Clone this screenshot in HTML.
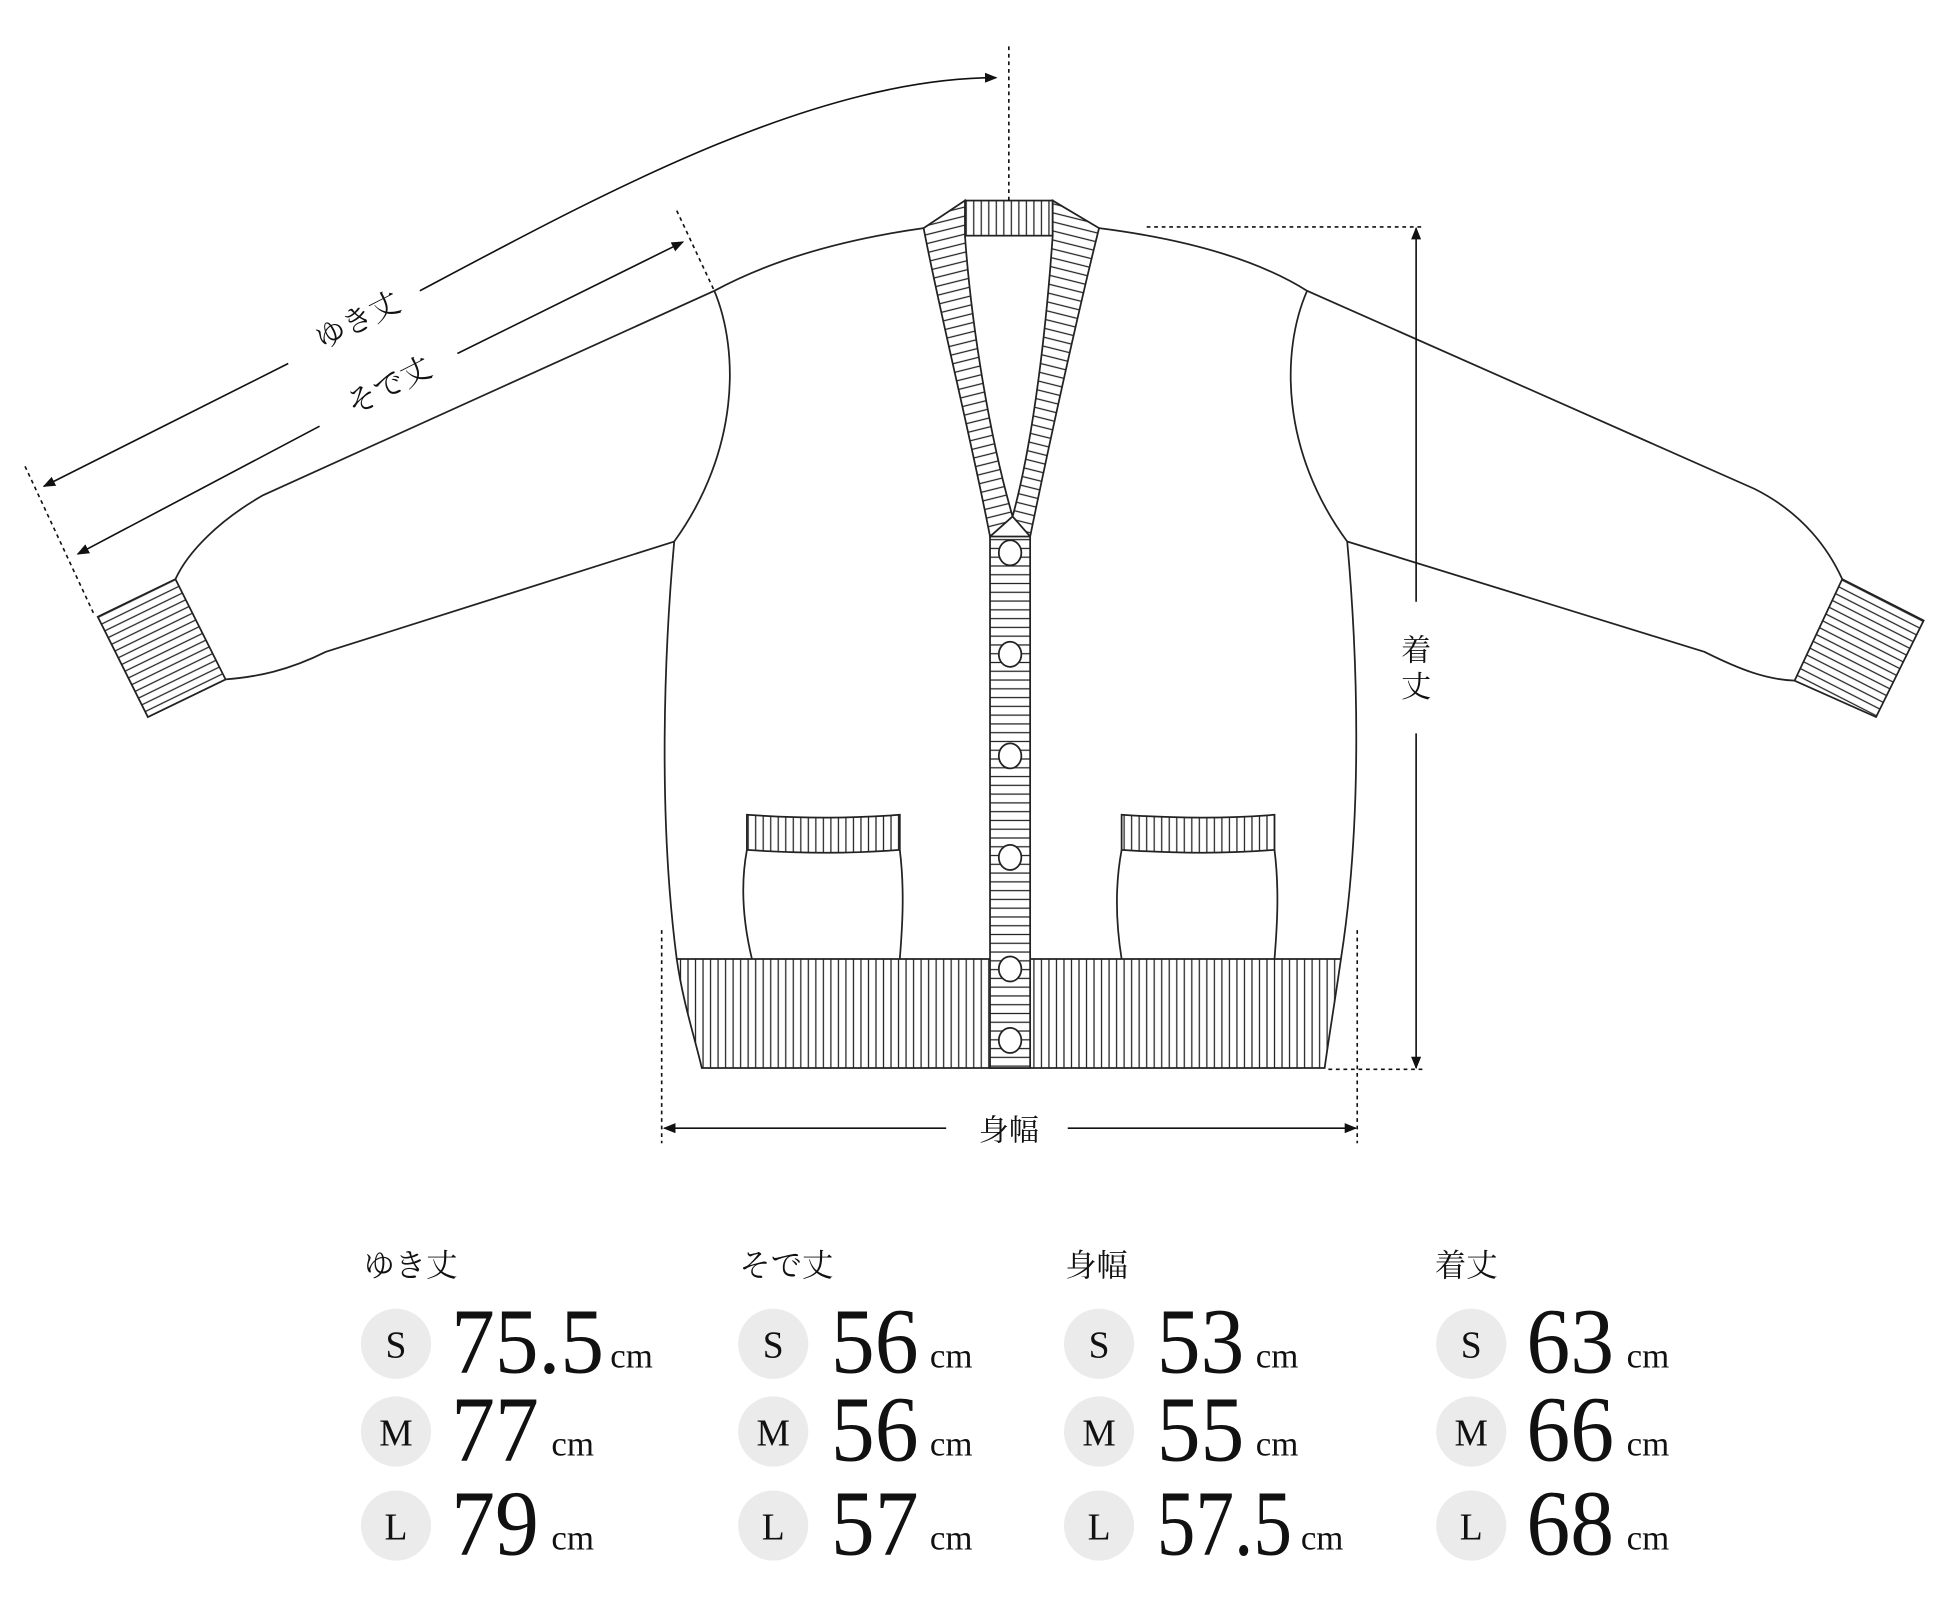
<!DOCTYPE html>
<html><head><meta charset="utf-8"><style>html,body{margin:0;padding:0;background:#fff}svg{display:block}</style></head>
<body>
<svg width="1955" height="1597" viewBox="0 0 1560 1274" preserveAspectRatio="none" xmlns="http://www.w3.org/2000/svg">
<defs>
<pattern id="pv" width="6" height="10" patternUnits="userSpaceOnUse"><rect width="6" height="10" fill="#fff"/><line x1="3" y1="0" x2="3" y2="10" stroke="#222" stroke-width="1"/></pattern>
<pattern id="ph" width="10" height="7" patternUnits="userSpaceOnUse"><rect width="10" height="7" fill="#fff"/><line x1="0" y1="3.5" x2="10" y2="3.5" stroke="#222" stroke-width="1"/></pattern>
<pattern id="pcl" width="10" height="7" patternUnits="userSpaceOnUse" patternTransform="rotate(-14)"><rect width="10" height="7" fill="#fff"/><line x1="0" y1="3.5" x2="10" y2="3.5" stroke="#222" stroke-width="1"/></pattern>
<pattern id="pcr" width="10" height="7" patternUnits="userSpaceOnUse" patternTransform="rotate(14)"><rect width="10" height="7" fill="#fff"/><line x1="0" y1="3.5" x2="10" y2="3.5" stroke="#222" stroke-width="1"/></pattern>
<pattern id="pkl" width="10" height="6" patternUnits="userSpaceOnUse" patternTransform="rotate(-26)"><rect width="10" height="6" fill="#fff"/><line x1="0" y1="3" x2="10" y2="3" stroke="#222" stroke-width="1"/></pattern>
<pattern id="pkr" width="10" height="6" patternUnits="userSpaceOnUse" patternTransform="rotate(27)"><rect width="10" height="6" fill="#fff"/><line x1="0" y1="3" x2="10" y2="3" stroke="#222" stroke-width="1"/></pattern>
<marker id="ar" markerWidth="10" markerHeight="8" refX="9" refY="4" orient="auto" markerUnits="userSpaceOnUse"><path d="M0,0 L10,4 L0,8 Z" fill="#111"/></marker>
</defs>
<g fill="none" stroke="#222" stroke-width="1.4">
<path d="M737,182 C680,190 620,205 570,232 L210,395 C175,415 150,440 140,462" fill="#fff"/>
<path d="M877,182 C940,190 1000,205 1043,232 L1400,390 C1440,410 1460,440 1470,462" fill="#fff"/>
<path d="M570,232 C590,280 590,360 538,432"/>
<path d="M1043,232 C1022,280 1022,360 1075,432"/>
<path d="M538,432 L260,520 C230,535 205,540 180,542"/>
<path d="M1075,432 L1360,520 C1390,535 1410,542 1432,543"/>
<path d="M538,432 C530,520 525,650 540,765"/>
<path d="M1075,432 C1083,520 1088,650 1070,765"/>
<path d="M78,492 L140,462 L180,542 L118,572 Z" fill="url(#pkl)"/>
<path d="M1470,462 L1535,495 L1497,572 L1432,543 Z" fill="url(#pkr)"/>
<path d="M540,765 L1070,765 C1065,800 1060,830 1057,852 L560,852 C555,830 545,800 540,765 Z" fill="url(#pv)"/>
<rect x="770" y="160" width="70" height="28" fill="url(#pv)"/>
<path d="M737,182 L770,160 L770,188 C775,260 790,350 808,412 L790,428 C775,350 750,250 737,182 Z" fill="url(#pcl)"/>
<path d="M877,182 L840,160 L840,188 C835,260 825,350 808,412 L822,428 C838,350 860,250 877,182 Z" fill="url(#pcr)"/>
<rect x="790" y="428" width="32" height="424" fill="url(#ph)"/>
<path d="M596,678 C590,710 594,740 600,765 M718,678 C722,710 720,740 718,765"/>
<path d="M596,650 C640,653 680,653 718,650 L718,678 C680,681 640,681 596,678 Z" fill="url(#pv)"/>
<path d="M895,678 C889,710 891,740 895,765 M1017,678 C1021,710 1019,740 1017,765"/>
<path d="M895,650 C940,653 980,653 1017,650 L1017,678 C980,681 940,681 895,678 Z" fill="url(#pv)"/>
</g>
<g fill="#fff" stroke="#222" stroke-width="1.4">
<ellipse cx="806" cy="441" rx="9" ry="10"/><ellipse cx="806" cy="522" rx="9" ry="10"/><ellipse cx="806" cy="603" rx="9" ry="10"/><ellipse cx="806" cy="684" rx="9" ry="10"/><ellipse cx="806" cy="773" rx="9" ry="10"/><ellipse cx="806" cy="830" rx="9" ry="10"/>
</g>
<g fill="none" stroke="#111" stroke-width="1.3">
<g stroke-dasharray="3,3">
<line x1="805" y1="37" x2="805" y2="160"/>
<line x1="540" y1="168" x2="570" y2="232"/>
<line x1="20" y1="372" x2="75" y2="490"/>
<line x1="915" y1="181" x2="1135" y2="181"/>
<line x1="1060" y1="853" x2="1135" y2="853"/>
<line x1="528" y1="742" x2="528" y2="912"/>
<line x1="1083" y1="742" x2="1083" y2="912"/>
</g>
<path d="M230,290 L35,388" marker-end="url(#ar)"/>
<path d="M335,232 C480,155 650,62 795,62" marker-end="url(#ar)"/>
<path d="M255,340 L62,442" marker-end="url(#ar)"/>
<path d="M365,282 L545,193" marker-end="url(#ar)"/>
<path d="M1130,480 L1130,182" marker-end="url(#ar)"/>
<path d="M1130,585 L1130,852" marker-end="url(#ar)"/>
<path d="M755,900 L530,900" marker-end="url(#ar)"/>
<path d="M852,900 L1082,900" marker-end="url(#ar)"/>
</g>
<g font-family="'Liberation Serif','Noto Serif CJK SC',serif" fill="#111">
<text x="285" y="264" font-size="24" text-anchor="middle" transform="rotate(-27 285 255)">ゆき丈</text>
<text x="310" y="316" font-size="24" text-anchor="middle" transform="rotate(-27 310 307)">そで丈</text>
<text x="1130" y="527" font-size="24" text-anchor="middle">着</text>
<text x="1130" y="556" font-size="24" text-anchor="middle">丈</text>
<text x="805" y="910" font-size="24" text-anchor="middle">身幅</text>
<g font-size="25">
<text x="290" y="1018">ゆき丈</text><text x="590" y="1018">そで丈</text><text x="850" y="1018">身幅</text><text x="1145" y="1018">着丈</text>
</g>
<g fill="#ebebeb">
<circle cx="316" cy="1072" r="28"/><circle cx="316" cy="1142" r="28"/><circle cx="316" cy="1217" r="28"/>
<circle cx="617" cy="1072" r="28"/><circle cx="617" cy="1142" r="28"/><circle cx="617" cy="1217" r="28"/>
<circle cx="877" cy="1072" r="28"/><circle cx="877" cy="1142" r="28"/><circle cx="877" cy="1217" r="28"/>
<circle cx="1174" cy="1072" r="28"/><circle cx="1174" cy="1142" r="28"/><circle cx="1174" cy="1217" r="28"/>
</g>
<g font-size="30" text-anchor="middle">
<text x="316" y="1083">S</text><text x="316" y="1153">M</text><text x="316" y="1228">L</text>
<text x="617" y="1083">S</text><text x="617" y="1153">M</text><text x="617" y="1228">L</text>
<text x="877" y="1083">S</text><text x="877" y="1153">M</text><text x="877" y="1228">L</text>
<text x="1174" y="1083">S</text><text x="1174" y="1153">M</text><text x="1174" y="1228">L</text>
</g>
<g font-size="74" lengthAdjust="spacingAndGlyphs">
<text x="360" y="1095" textLength="122" lengthAdjust="spacingAndGlyphs">75.5</text><text x="360" y="1165" textLength="70" lengthAdjust="spacingAndGlyphs">77</text><text x="360" y="1240" textLength="70" lengthAdjust="spacingAndGlyphs">79</text>
<text x="663" y="1095" textLength="70" lengthAdjust="spacingAndGlyphs">56</text><text x="663" y="1165" textLength="70" lengthAdjust="spacingAndGlyphs">56</text><text x="663" y="1240" textLength="70" lengthAdjust="spacingAndGlyphs">57</text>
<text x="923" y="1095" textLength="70" lengthAdjust="spacingAndGlyphs">53</text><text x="923" y="1165" textLength="70" lengthAdjust="spacingAndGlyphs">55</text><text x="923" y="1240" textLength="108" lengthAdjust="spacingAndGlyphs">57.5</text>
<text x="1218" y="1095" textLength="70" lengthAdjust="spacingAndGlyphs">63</text><text x="1218" y="1165" textLength="70" lengthAdjust="spacingAndGlyphs">66</text><text x="1218" y="1240" textLength="70" lengthAdjust="spacingAndGlyphs">68</text>
</g>
<g font-size="28">
<text x="487" y="1091" textLength="34" lengthAdjust="spacingAndGlyphs">cm</text><text x="440" y="1161" textLength="34" lengthAdjust="spacingAndGlyphs">cm</text><text x="440" y="1236" textLength="34" lengthAdjust="spacingAndGlyphs">cm</text>
<text x="742" y="1091" textLength="34" lengthAdjust="spacingAndGlyphs">cm</text><text x="742" y="1161" textLength="34" lengthAdjust="spacingAndGlyphs">cm</text><text x="742" y="1236" textLength="34" lengthAdjust="spacingAndGlyphs">cm</text>
<text x="1002" y="1091" textLength="34" lengthAdjust="spacingAndGlyphs">cm</text><text x="1002" y="1161" textLength="34" lengthAdjust="spacingAndGlyphs">cm</text><text x="1038" y="1236" textLength="34" lengthAdjust="spacingAndGlyphs">cm</text>
<text x="1298" y="1091" textLength="34" lengthAdjust="spacingAndGlyphs">cm</text><text x="1298" y="1161" textLength="34" lengthAdjust="spacingAndGlyphs">cm</text><text x="1298" y="1236" textLength="34" lengthAdjust="spacingAndGlyphs">cm</text>
</g>
</g>
</svg>
</body></html>
